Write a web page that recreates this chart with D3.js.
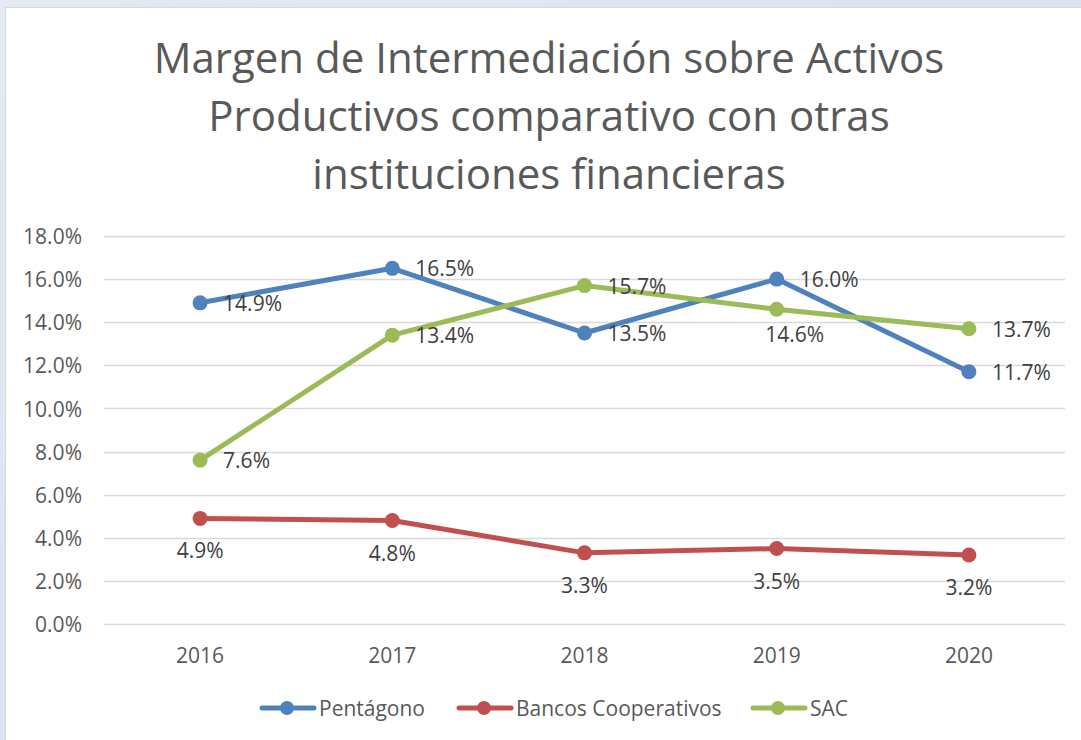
<!DOCTYPE html>
<html><head><meta charset="utf-8">
<script src="https://cdn.jsdelivr.net/npm/d3@7"></script>
<style>
html,body{margin:0;padding:0;background:#dde5f2;}
svg{display:block;}
</style></head>
<body>
<svg id="c" width="1081" height="740"></svg>
<script>
const categories = ["2016","2017","2018","2019","2020"];
const seriesNames = ["Pentágono","Bancos Cooperativos","SAC"];
const pentagono = [14.9,16.5,13.5,16.0,11.7];
const bancos = [4.9,4.8,3.3,3.5,3.2];
const sac = [7.6,13.4,15.7,14.6,13.7];
const yTicks = [0,2,4,6,8,10,12,14,16,18];
const titleLines = ["Margen de Intermediación sobre Activos","Productivos comparativo con otras","instituciones financieras"];
const colors = ["#4f81bd","#c0504d","#9bbb59"];
const labelPos = [
  ["right","right","right","right","right"],
  ["below","below","below","below","below"],
  ["right","right","right","belowRight","right"]
];

const svg = d3.select("#c");
const font = "'Open Sans', 'Noto Sans', sans-serif";
const fs = "21px";

const defs = svg.append("defs");
const g1 = defs.append("linearGradient").attr("id","bg").attr("x1","0").attr("y1","0").attr("x2","1").attr("y2","1");
g1.append("stop").attr("offset","0").attr("stop-color","#e4e9f4");
g1.append("stop").attr("offset","1").attr("stop-color","#d4ddee");
svg.append("rect").attr("width",1081).attr("height",740).attr("fill","url(#bg)");
svg.append("rect").attr("x",5.5).attr("y",7.5).attr("width",1090).attr("height",750)
  .attr("fill","#ffffff").attr("stroke","#d9d9d9").attr("stroke-width",1);

// title
svg.append("g").selectAll("text").data(titleLines).join("text")
  .attr("x",549).attr("y",(d,i)=>73+i*58)
  .attr("text-anchor","middle").attr("fill","#595959")
  .style("font-family",font).style("font-size","42px")
  .text(d=>d);

const x = d3.scaleBand().domain(categories).range([104,1065]).padding(0);
const y = d3.scaleLinear().domain([0,18]).range([624,236]);

// gridlines
svg.append("g").selectAll("line").data(yTicks).join("line")
  .attr("x1",104).attr("x2",1065)
  .attr("y1",d=>Math.round(y(d))+0.5).attr("y2",d=>Math.round(y(d))+0.5)
  .attr("stroke","#d9d9d9").attr("stroke-width",1.5);

// y axis
const yAxis = d3.axisLeft(y).tickValues(yTicks).tickFormat(d=>d.toFixed(1)+"%").tickSize(0).tickPadding(0);
const ya = svg.append("g").attr("transform","translate(82,0)").call(yAxis);
ya.select(".domain").remove();
ya.selectAll("text").attr("fill","#595959").attr("dy","0.36em").style("font-family",font).style("font-size",fs);

// x axis
const xAxis = d3.axisBottom(x).tickSize(0).tickPadding(0);
const xa = svg.append("g").attr("transform","translate(0,663)").call(xAxis);
xa.select(".domain").remove();
xa.selectAll("text").attr("fill","#595959").attr("dy","0").style("font-family",font).style("font-size",fs);

const all = [pentagono,bancos,sac];
const cx = c => x(c)+x.bandwidth()/2;
const line = d3.line().x((d,i)=>cx(categories[i])).y(d=>y(d));

all.forEach((vals,s)=>{
  const g = svg.append("g");
  g.append("path").datum(vals).attr("d",line).attr("fill","none")
    .attr("stroke",colors[s]).attr("stroke-width",5).attr("stroke-linejoin","round").attr("stroke-linecap","round");
  g.selectAll("circle").data(vals).join("circle")
    .attr("cx",(d,i)=>cx(categories[i])).attr("cy",d=>y(d)).attr("r",7.5).attr("fill",colors[s]);
});
const lx = (p,c) => p==="right" ? c+23 : p==="belowRight" ? c+18 : c;
const ly = (p,v) => p==="right" ? v+8 : p==="belowRight" ? v+33 : v+40;
all.forEach((vals,s)=>{
  const g = svg.append("g");
  g.selectAll("text").data(vals).join("text")
    .attr("x",(d,i)=> lx(labelPos[s][i], cx(categories[i])))
    .attr("y",(d,i)=> ly(labelPos[s][i], y(d)))
    .attr("text-anchor",(d,i)=> labelPos[s][i]==="right" ? "start" : "middle")
    .attr("fill","#404040").style("font-family",font).style("font-size",fs)
    .text(d=>d.toFixed(1)+"%");
});

// legend
const legX = [260,457,751];
const lg = svg.append("g");
seriesNames.forEach((n,s)=>{
  const g = lg.append("g").attr("transform",`translate(${legX[s]},708)`);
  g.append("line").attr("x1",2).attr("x2",54).attr("y1",0).attr("y2",0)
    .attr("stroke",colors[s]).attr("stroke-width",5).attr("stroke-linecap","round");
  g.append("circle").attr("cx",27).attr("cy",0).attr("r",7).attr("fill",colors[s]);
  g.append("text").attr("x",59).attr("y",8).attr("fill","#595959")
    .style("font-family",font).style("font-size",fs).text(n);
});
</script>
</body></html>
